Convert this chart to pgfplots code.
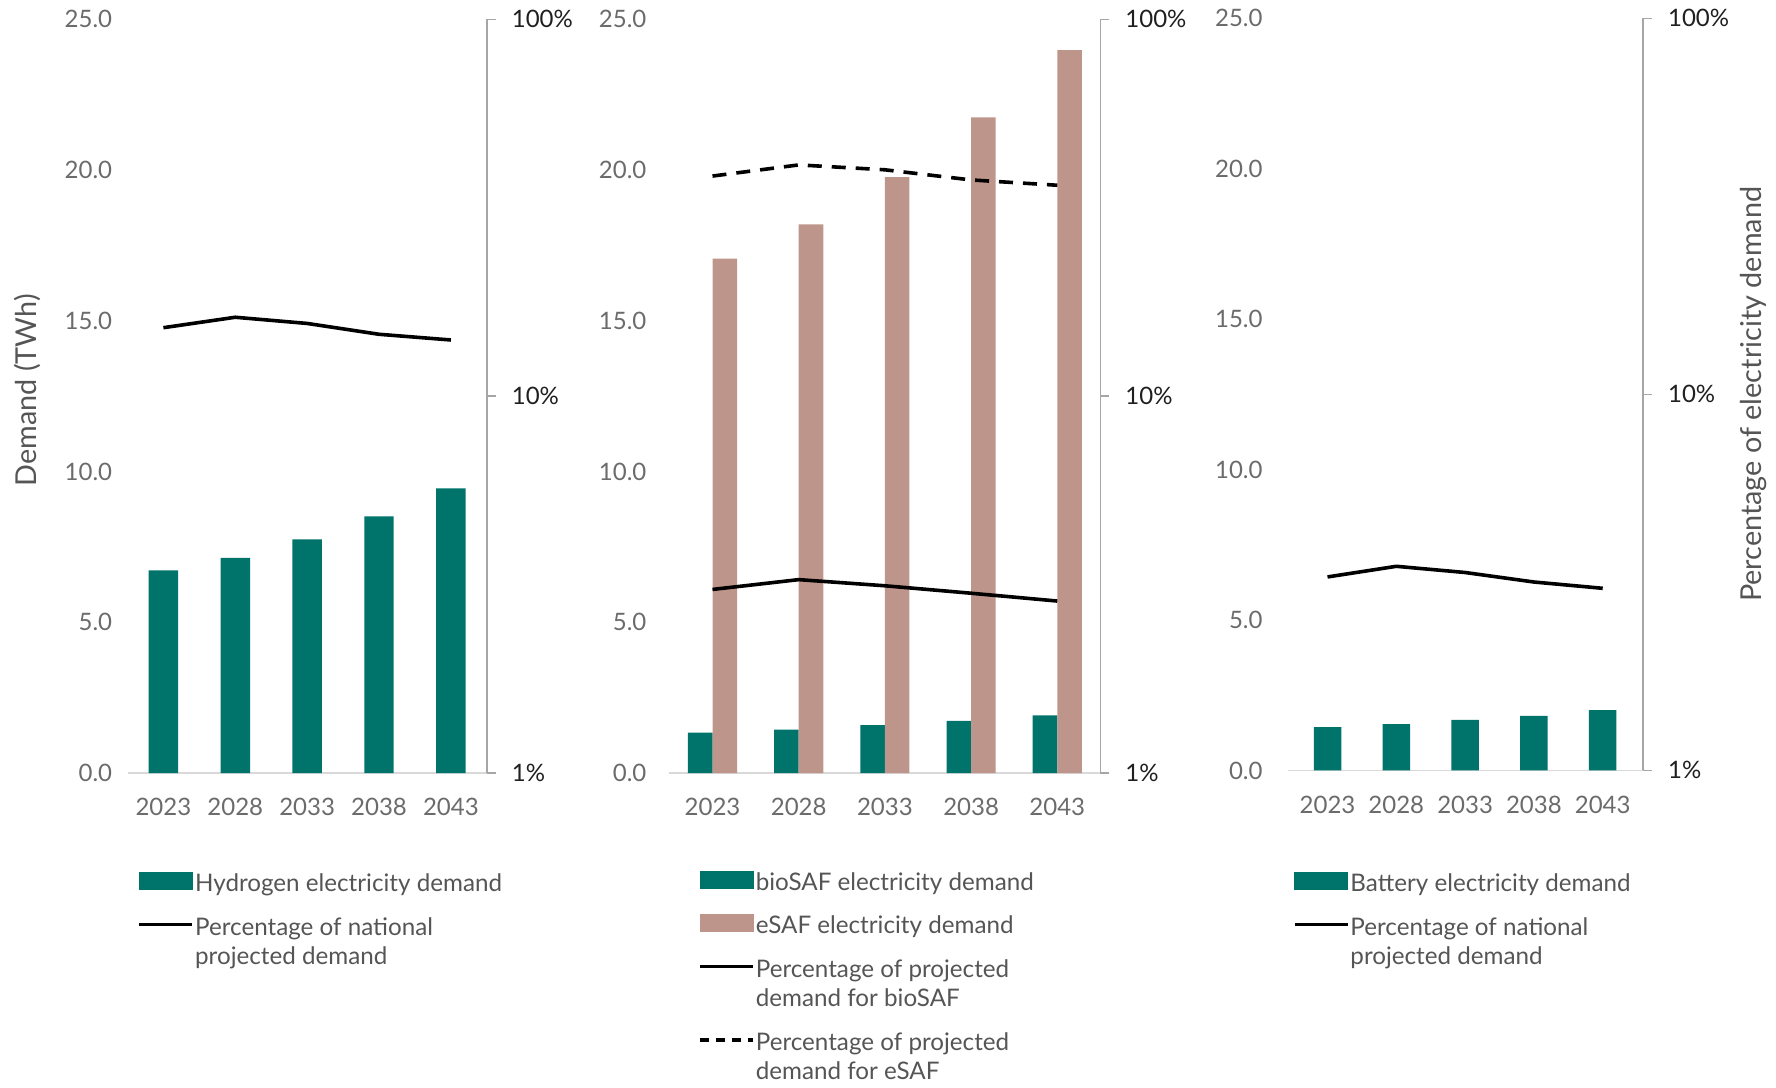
\documentclass[border=0pt]{standalone}
\usepackage{pgfplots}
\pgfplotsset{compat=1.18}
\usepackage{fontspec}
\setmainfont{Lato}
\definecolor{teal1}{HTML}{00736B}
\definecolor{brown1}{HTML}{BE958A}
\definecolor{ticktext}{HTML}{6B6B6B}
\definecolor{legtext}{HTML}{555555}
\definecolor{xaxiscol}{HTML}{D9D9D9}
\definecolor{raxiscol}{HTML}{A6A6A6}

\pgfplotsset{
  leftax/.style={
    scale only axis, anchor=south west,
    ymin=0, ymax=25, ytick={0,5,10,15,20,25},
    xtick={0,1,2,3,4},
    xticklabels={2023,2028,2033,2038,2043},
    axis x line*=bottom, axis y line*=left,
    y axis line style={draw=none},
    x axis line style={draw=xaxiscol, line width=0.8pt},
    major tick length=0pt,
    tick style={draw=none},
    /pgf/number format/assume math mode=true,
    ticklabel style={font=\fontsize{12}{14}\selectfont, text=ticktext},
    yticklabel style={/pgf/number format/fixed, /pgf/number format/fixed zerofill, /pgf/number format/precision=1},
    xticklabel style={yshift=-9.2pt},
    clip=false,
  },
  rightax/.style={
    scale only axis, anchor=south west,
    ymin=1, ymax=100,
    axis x line=none, axis y line*=right,
    ytick={1,10,100}, yticklabels={1\%,10\%,100\%},
    tick align=outside, major tick length=4.5pt,
    y axis line style={draw=raxiscol, line width=0.8pt},
    ytick style={draw=raxiscol, line width=0.8pt},
    yticklabel style={font=\fontsize{12}{14}\selectfont, text=black!88, xshift=4.5pt},
    clip=false,
    legend style={draw=none, fill=none, inner sep=0pt, anchor=north west,
      row sep=5.8pt, column sep=-1.5pt,
      font=\fontsize{12.1}{14.75}\selectfont, text=legtext,
      cells={anchor=north west, align=left, inner xsep=0pt, inner ysep=0pt}},
  },
  tealbarimg/.style={legend image code/.code={\fill[teal1] (0pt,-11.5pt) rectangle (26.5pt,-3pt);}},
  brownbarimg/.style={legend image code/.code={\fill[brown1] (0pt,-11.5pt) rectangle (26.5pt,-3pt);}},
  solidimg/.style={legend image code/.code={\draw[black, line width=1.8pt] (0pt,-7.2pt) -- (26.5pt,-7.2pt);}},
  dashimg/.style={legend image code/.code={\draw[black, line width=1.8pt, dash pattern=on 4.5pt off 3.5pt] (0pt,-7.2pt) -- (26.5pt,-7.2pt);}},
}

\begin{document}
\begin{tikzpicture}
\path[use as bounding box] (0pt,0pt) rectangle (888pt,543.5pt);

% ---------------- Panel 1: Hydrogen ----------------
\begin{axis}[leftax, at={(64.1pt,157pt)}, width=179.3pt, height=376.8pt,
  xmin=-0.49, xmax=4.5, ybar, bar width=0.41,
  yticklabel style={xshift=-4.5pt},
  ylabel={Demand (TWh)},
  ylabel style={at={(axis description cs:-0.28,0.508)}, anchor=center,
    font=\fontsize{14.4}{17}\selectfont, text=legtext}]
\addplot[fill=teal1, draw=none] coordinates {(0,6.72) (1,7.14) (2,7.75) (3,8.51) (4,9.44)};
\end{axis}
\begin{axis}[ymode=log, rightax, yminorticks=false, at={(64.1pt,157pt)}, width=179.3pt, height=376.8pt,
  xmin=-0.49, xmax=4.5,
  legend style={at={(axis description cs:0.025,-0.1234)}}]
\addlegendimage{tealbarimg}
\addlegendentry{Hydrogen electricity demand\strut}
\addplot[black, line width=1.8pt, solidimg] coordinates {(0,15.2) (1,16.2) (2,15.6) (3,14.6) (4,14.1)};
\addlegendentry{Percentage of national\strut\\projected demand\strut}
\end{axis}

% ---------------- Panel 2: SAF ----------------
\begin{axis}[leftax, at={(334.7pt,157pt)}, width=215.5pt, height=376.8pt,
  xmin=-0.5, xmax=4.5, ybar=0pt, bar width=0.285,
  yticklabel style={xshift=-8pt}]
\addplot[fill=teal1, draw=none, bar shift=-0.1425] coordinates {(0,1.34) (1,1.44) (2,1.59) (3,1.73) (4,1.91)};
\addplot[fill=brown1, draw=none, bar shift=0.1425] coordinates {(0,17.06) (1,18.2) (2,19.77) (3,21.75) (4,23.98)};
\end{axis}
\begin{axis}[ymode=log, rightax, yminorticks=false, at={(334.7pt,157pt)}, width=215.5pt, height=376.8pt,
  xmin=-0.5, xmax=4.5,
  legend style={at={(axis description cs:0.066,-0.1215)}}]
\addlegendimage{tealbarimg}
\addlegendentry{bioSAF electricity demand\strut}
\addlegendimage{brownbarimg}
\addlegendentry{eSAF electricity demand\strut}
\addplot[black, line width=1.8pt, solidimg] coordinates {(0,3.07) (1,3.26) (2,3.14) (3,3.0) (4,2.86)};
\addlegendentry{Percentage of projected\strut\\demand for bioSAF\strut}
\addplot[black, line width=1.8pt, dash pattern=on 7pt off 5pt, dashimg]
  coordinates {(0,38.4) (1,41.1) (2,39.9) (3,37.5) (4,36.3)};
\addlegendentry{Percentage of projected\strut\\demand for eSAF\rule{0pt}{10.3pt}}
\end{axis}

% ---------------- Panel 3: Battery ----------------
\begin{axis}[leftax, at={(643.8pt,158.3pt)}, width=177.7pt, height=376pt,
  xmin=-0.58, xmax=4.586, ybar, bar width=0.40,
  yticklabel style={xshift=-9pt}]
\addplot[fill=teal1, draw=none] coordinates {(0,1.44) (1,1.54) (2,1.68) (3,1.81) (4,2.0)};
\end{axis}
\begin{axis}[ymode=log, rightax, yminorticks=false, at={(643.8pt,158.3pt)}, width=177.7pt, height=376pt,
  xmin=-0.58, xmax=4.586,
  ylabel={Percentage of electricity demand},
  ylabel style={at={(axis description cs:1.31,0.5)}, anchor=center,
    font=\fontsize{14.4}{17}\selectfont, text=legtext},
  legend style={at={(axis description cs:0.0136,-0.127)}}]
\addlegendimage{tealbarimg}
\addlegendentry{Battery electricity demand\strut}
\addplot[black, line width=1.8pt, solidimg] coordinates {(0,3.27) (1,3.49) (2,3.36) (3,3.17) (4,3.05)};
\addlegendentry{Percentage of national\strut\\projected demand\strut}
\end{axis}
\end{tikzpicture}
\end{document}
